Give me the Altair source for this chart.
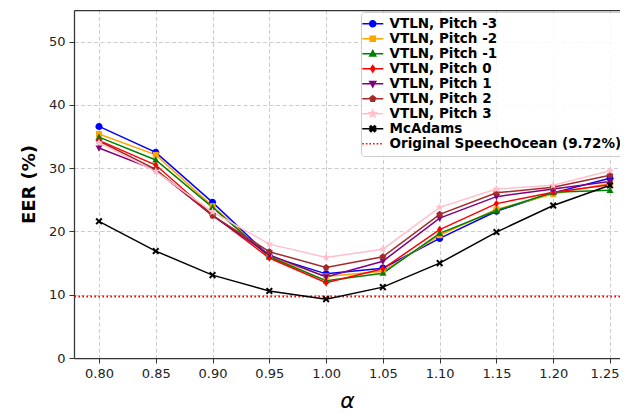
import altair as alt
import pandas as pd

alpha = [0.80, 0.85, 0.90, 0.95, 1.00, 1.05, 1.10, 1.15, 1.20, 1.25]

series_names = [
    "VTLN, Pitch -3", "VTLN, Pitch -2", "VTLN, Pitch -1", "VTLN, Pitch 0",
    "VTLN, Pitch 1", "VTLN, Pitch 2", "VTLN, Pitch 3", "McAdams",
]
baseline_name = "Original SpeechOcean (9.72%)"
baseline_value = [9.72]

pitch_m3 = [36.6, 32.5, 24.6, 16.1, 13.3, 14.2, 18.9, 23.2, 26.1, 28.4]
pitch_m2 = [35.4, 32.1, 24.0, 16.0, 12.9, 13.7, 19.4, 23.5, 25.9, 27.6]
pitch_m1 = [34.9, 31.3, 23.8, 16.0, 12.2, 13.4, 19.7, 23.3, 26.2, 26.5]
pitch_0 = [34.4, 30.5, 22.6, 15.8, 11.9, 14.1, 20.3, 24.4, 26.2, 27.4]
pitch_1 = [33.2, 29.7, 22.5, 16.3, 12.8, 15.3, 22.1, 25.5, 26.7, 27.9]
pitch_2 = [34.3, 29.8, 22.5, 16.8, 14.3, 16.0, 22.7, 26.1, 27.0, 28.9]
pitch_3 = [34.0, 29.5, 23.1, 18.0, 15.9, 17.2, 23.8, 26.7, 27.3, 29.6]
mcadams = [21.6, 16.9, 13.1, 10.6, 9.3, 11.2, 15.0, 19.9, 24.1, 27.3]

series_values = [pitch_m3, pitch_m2, pitch_m1, pitch_0, pitch_1, pitch_2, pitch_3, mcadams]

colors = ["blue", "orange", "green", "red", "purple", "brown", "pink", "black", "red"]

# marker paths in the unit box
CIRCLE = "M-1,0A1,1,0,1,1,1,0A1,1,0,1,1,-1,0Z"
SQUARE = "M-0.85,-0.85L0.85,-0.85L0.85,0.85L-0.85,0.85Z"
TRI_UP = "M0,-1.05L1,0.75L-1,0.75Z"
DIAMOND = "M0,-1.05L0.75,0L0,1.05L-0.75,0Z"
TRI_DOWN = "M0,1.05L1,-0.75L-1,-0.75Z"
PENTAGON = "M0,-1L0.951,-0.309L0.588,0.809L-0.588,0.809L-0.951,-0.309Z"
STAR = ("M0,-1.2L0.318,-0.437L1.141,-0.371L0.514,0.167L0.706,0.971L0,0.54"
        "L-0.706,0.971L-0.514,0.167L-1.141,-0.371L-0.318,-0.437Z")
XMARK = "M-1,-0.6L-0.6,-1L0,-0.4L0.6,-1L1,-0.6L0.4,0L1,0.6L0.6,1L0,0.4L-0.6,1L-1,0.6L-0.4,0Z"
markers = [CIRCLE, SQUARE, TRI_UP, DIAMOND, TRI_DOWN, PENTAGON, STAR, XMARK]

rows = []
for name, vals in zip(series_names, series_values):
    for a, v in zip(alpha, vals):
        rows.append({"alpha": a, "EER": v, "series": name})
df = pd.DataFrame(rows)
df_base = pd.DataFrame({"EER": baseline_value, "series": [baseline_name]})

all_names = series_names + [baseline_name]
LINE = "M-3.5,0L3.5,0"
legend_paths = [LINE + m for m in markers] + [LINE]
names_arr = "[" + ",".join("'" + n + "'" for n in all_names) + "]"
shape_expr = ("[" + ",".join("'" + p + "'" for p in legend_paths) + "][indexof("
              + names_arr + ", datum.value)]")
colors_arr = "[" + ",".join("'" + c + "'" for c in colors) + "]"
color_expr = colors_arr + "[indexof(" + names_arr + ", datum.value)]"
dash_expr = "datum.value === '" + baseline_name + "' ? [1.6, 2] : [1, 0]"

legend = alt.Legend(
    title=None, orient="none", legendX=287, legendY=2,
    labelFont="DejaVu Sans", labelFontSize=13.5, labelFontWeight="bold", labelColor="black",
    symbolSize=36, labelOffset=10, rowPadding=0, padding=5,
    strokeColor="#cccccc", fillColor="rgba(255,255,255,0.85)", cornerRadius=3,
    labelLimit=400,
    symbolType={"expr": shape_expr},
    symbolFillColor={"expr": color_expr},
    symbolStrokeColor={"expr": color_expr},
    symbolDash={"expr": dash_expr},
    symbolStrokeWidth=1.5,
    symbolOpacity=1,
)

color = alt.Color("series:N", scale=alt.Scale(domain=all_names, range=colors), legend=legend)

xscale = alt.Scale(domain=[0.778, 1.2588], nice=False, zero=False)
yscale = alt.Scale(domain=[0, 55], nice=False)

x_bottom = alt.X(
    "alpha:Q", scale=xscale,
    axis=alt.Axis(values=alpha, format=".2f", title="α", titleFont="DejaVu Sans",
                  titleFontStyle="italic", titleFontWeight="normal", titleFontSize=22,
                  titlePadding=10, grid=True, gridDash=[4, 2.5],
                  gridColor="#cccccc", tickSize=5, labelPadding=4,
                  labelFlush=15, labelFlushOffset=9),
)
y_left = alt.Y(
    "EER:Q", scale=yscale,
    axis=alt.Axis(values=[0, 10, 20, 30, 40, 50], title="EER (%)", titleFont="DejaVu Sans",
                  titleFontWeight="bold", titleFontSize=18, titlePadding=10,
                  grid=True, gridDash=[4, 2.5], gridColor="#cccccc", tickSize=5, labelPadding=4),
)

lines = alt.Chart(df).mark_line(strokeWidth=1.5).encode(
    x=x_bottom, y=y_left, color=color, detail="series:N",
)

points = alt.Chart(df).mark_point(filled=True, size=50, opacity=1, strokeWidth=0.6).encode(
    x=alt.X("alpha:Q", scale=xscale,
            axis=alt.Axis(orient="top", labels=False, ticks=False, grid=False, title=None,
                          domain=True, domainColor="#333333", domainWidth=1.25)),
    y=alt.Y("EER:Q", scale=yscale),
    color=color,
    shape=alt.Shape("series:N", scale=alt.Scale(domain=series_names, range=markers), legend=None),
)

base = alt.Chart(df_base).mark_rule(strokeDash=[1.6, 2.4], strokeWidth=1.8).encode(
    y=alt.Y("EER:Q", scale=yscale), color=color,
)

chart = alt.layer(base, lines, points).resolve_axis(x="independent").properties(
    width=546, height=348,
    autosize=alt.AutoSizeParams(type="none"),
    padding={"left": 66, "top": 2, "right": 0, "bottom": 56},
).configure_view(stroke=None).configure_axis(
    labelFont="DejaVu Sans", labelFontSize=13, labelColor="#222222",
    domainColor="#333333", domainWidth=1.25, tickColor="#333333", titleColor="black",
)

chart.save("out.html", embed_options={"renderer": "svg", "actions": False})
